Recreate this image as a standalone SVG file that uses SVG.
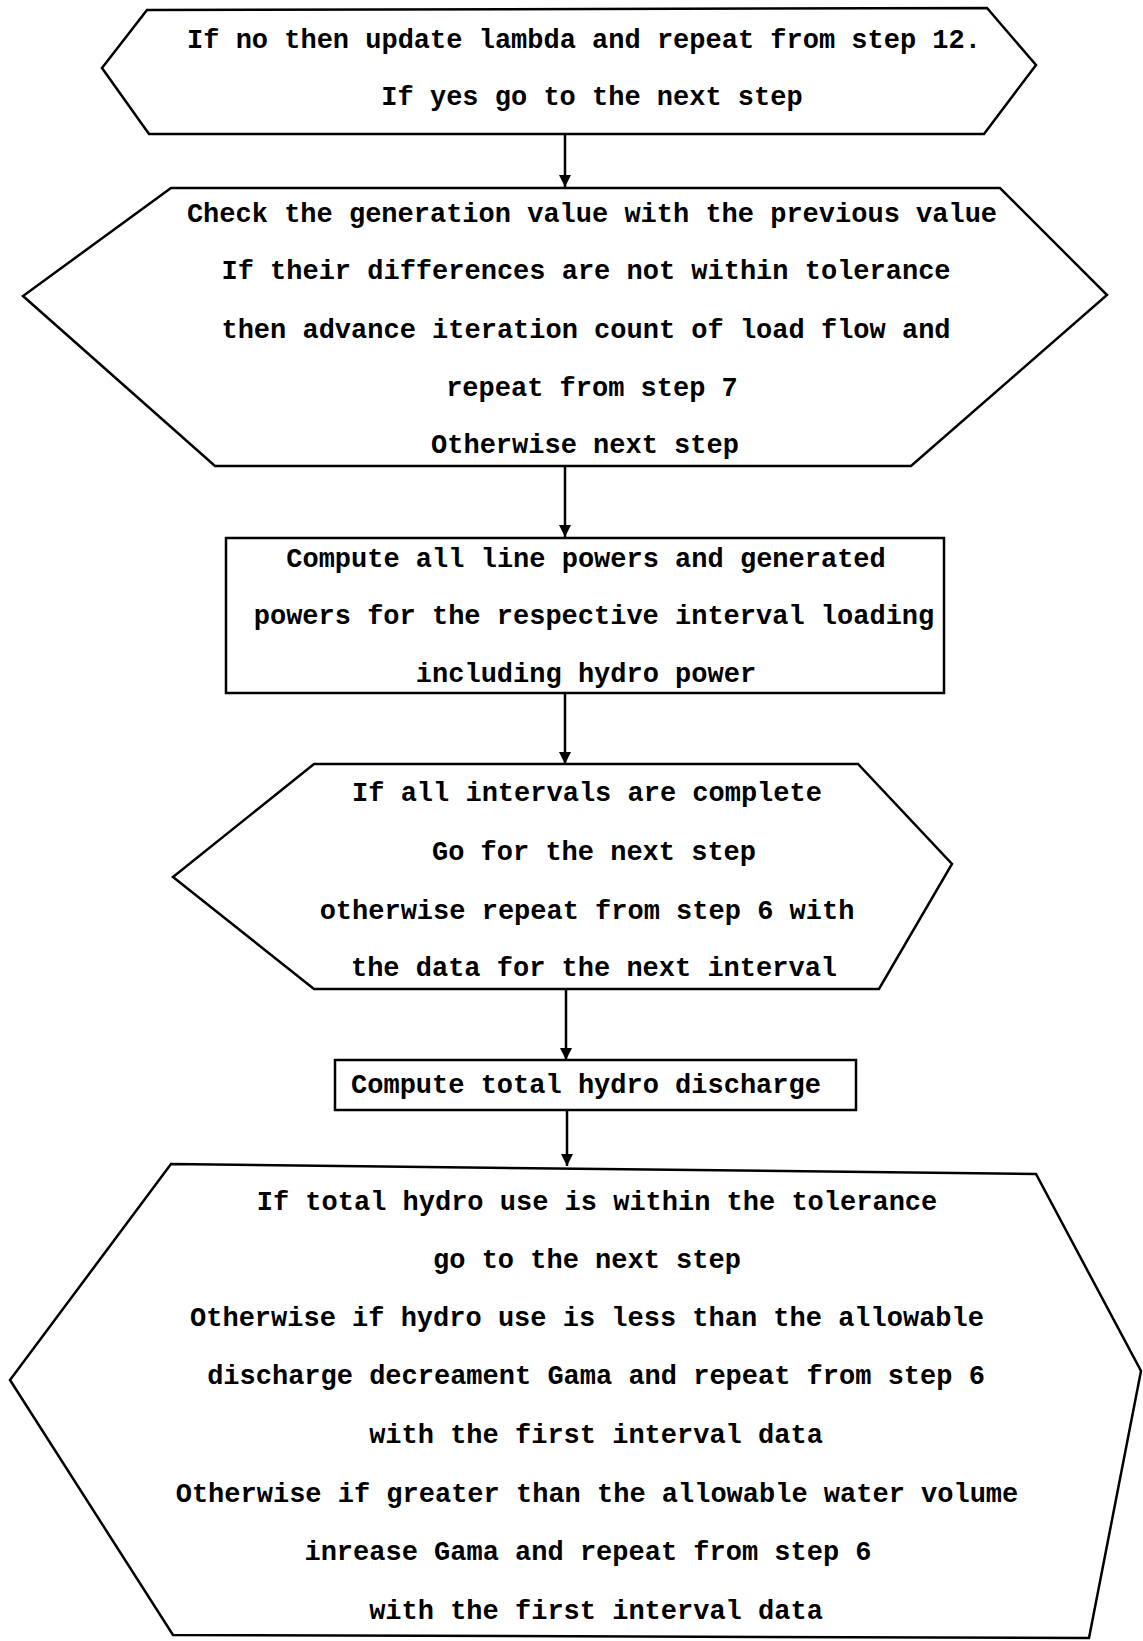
<svg xmlns="http://www.w3.org/2000/svg" width="1143" height="1641" viewBox="0 0 1143 1641">
<style>
.s{fill:#fff;stroke:#000;stroke-width:2.5;stroke-linejoin:miter}
.t{font-family:"Liberation Mono",monospace;font-size:27px;fill:#000;text-anchor:middle;font-weight:bold}
.c{stroke:#000;stroke-width:2.5;fill:none;marker-end:url(#ah)}
</style>
<defs>
<marker id="ah" viewBox="0 0 10 10" refX="10" refY="5" markerWidth="5" markerHeight="5" orient="auto" markerUnits="strokeWidth">
<path d="M0,0 L10,5 L0,10 z" fill="#000"/>
</marker>
</defs>
<rect width="1143" height="1641" fill="#fff"/>
<g id="connectors">
<line class="c" x1="565" y1="134" x2="565" y2="187"/>
<line class="c" x1="565" y1="466" x2="565" y2="537"/>
<line class="c" x1="565" y1="693" x2="565" y2="764"/>
<line class="c" x1="566" y1="989" x2="566" y2="1060"/>
<line class="c" x1="567" y1="1110" x2="567" y2="1166"/>
</g>
<g id="node1">
<polygon class="s" points="147,10 987,8 1036,65 984,134 149,134 102,68"/>
<text class="t" x="584" y="48">If no then update lambda and repeat from step 12.</text>
<text class="t" x="592" y="105">If yes go to the next step</text>
</g>
<g id="node2">
<polygon class="s" points="171,188 1000,188 1107,295 911,466 215,466 23,296"/>
<text class="t" x="592" y="222">Check the generation value with the previous value</text>
<text class="t" x="586" y="279">If their differences are not within tolerance</text>
<text class="t" x="586" y="338">then advance iteration count of load flow and</text>
<text class="t" x="592" y="396">repeat from step 7</text>
<text class="t" x="585" y="453">Otherwise next step</text>
</g>
<g id="node3">
<rect class="s" x="226" y="538" width="718" height="155"/>
<text class="t" x="586" y="567">Compute all line powers and generated</text>
<text class="t" x="594" y="624">powers for the respective interval loading</text>
<text class="t" x="586" y="682">including hydro power</text>
</g>
<g id="node4">
<polygon class="s" points="314,764 858,764 952,864 879,989 314,989 173,877"/>
<text class="t" x="587" y="801">If all intervals are complete</text>
<text class="t" x="594" y="860">Go for the next step</text>
<text class="t" x="587" y="919">otherwise repeat from step 6 with</text>
<text class="t" x="594" y="976">the data for the next interval</text>
</g>
<g id="node5">
<rect class="s" x="335" y="1060" width="521" height="50"/>
<text class="t" x="586" y="1093">Compute total hydro discharge</text>
</g>
<g id="node6">
<polygon class="s" points="171,1164 1036,1174 1141,1371 1089,1638 173,1635 10,1380"/>
<text class="t" x="597" y="1210">If total hydro use is within the tolerance</text>
<text class="t" x="587" y="1268">go to the next step</text>
<text class="t" x="587" y="1326">Otherwise if hydro use is less than the allowable</text>
<text class="t" x="596" y="1384">discharge decreament Gama and repeat from step 6</text>
<text class="t" x="596" y="1443">with the first interval data</text>
<text class="t" x="597" y="1502">Otherwise if greater than the allowable water volume</text>
<text class="t" x="588" y="1560">inrease Gama and repeat from step 6</text>
<text class="t" x="596" y="1619">with the first interval data</text>
</g>
</svg>
